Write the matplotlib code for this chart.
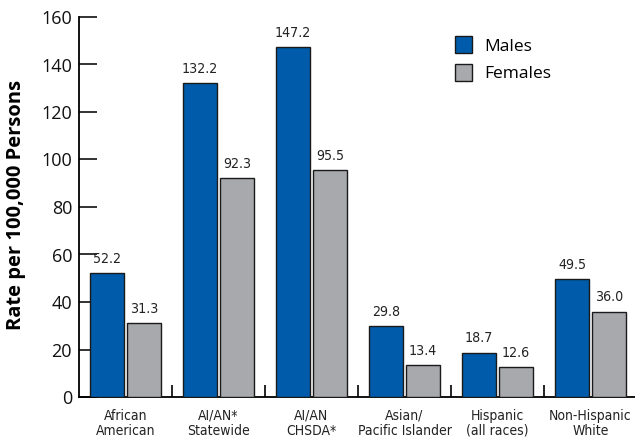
import matplotlib
matplotlib.use("Agg")
import matplotlib.pyplot as plt
import numpy as np
from matplotlib.patches import Patch
from matplotlib import font_manager as fm

categories = ["African\nAmerican", "AI/AN*\nStatewide", "AI/AN\nCHSDA*",
              "Asian/\nPacific Islander", "Hispanic\n(all races)", "Non-Hispanic\nWhite"]
males = [52.2, 132.2, 147.2, 29.8, 18.7, 49.5]
females = [31.3, 92.3, 95.5, 13.4, 12.6, 36.0]
yticks = [0, 20, 40, 60, 80, 100, 120, 140, 160]

blue = "#005BAA"
gray = "#A7A9AC"
regular = ["Open Sans", "DejaVu Sans"]

# pick a condensed face if one is installed
cond_path = None
for f in fm.fontManager.ttflist:
    if f.name == "DejaVu Sans" and f.stretch in ("condensed", 300, "semi-condensed") and f.weight in (400, "normal", "regular") and f.style == "normal":
        cond_path = f.fname
        break

def narrow_kw(size):
    if cond_path:
        return dict(fontproperties=fm.FontProperties(fname=cond_path, size=size))
    return dict(family=regular, fontsize=size * 0.85)

fig = plt.figure(figsize=(6.35, 4.44), dpi=100)
ax = fig.add_axes([79/635, 47/444, 558/635, 380/444])

x = np.arange(len(categories))
bw = 0.365
gap = 0.03
xm = x + 0.5 - gap/2 - bw/2
xf = x + 0.5 + gap/2 + bw/2
ax.bar(xm, males, width=bw, color=blue, edgecolor="#1a1a1a", linewidth=1.0, zorder=3)
ax.bar(xf, females, width=bw, color=gray, edgecolor="#1a1a1a", linewidth=1.0, zorder=3)

for xi, v in zip(xm, males):
    ax.text(xi, v + 3, f"{v:.1f}", ha="center", va="bottom", color="#222", **narrow_kw(10.2))
for xi, v in zip(xf, females):
    ax.text(xi, v + 3, f"{v:.1f}", ha="center", va="bottom", color="#222", **narrow_kw(10.2))

ax.set_xlim(0, 6)
ax.set_ylim(0, 160)
ax.set_yticks(yticks)
ax.set_yticklabels([str(t) for t in yticks], fontsize=13, family=regular)
ax.tick_params(axis="y", direction="in", length=13, width=1.2, pad=5, colors="#111")

ax.set_xticks(np.arange(1, 6))
ax.set_xticklabels([])
ax.tick_params(axis="x", direction="in", length=9, width=1.2)
for xi, lab in zip(x + 0.5, categories):
    ax.text(xi, -5.0, lab, ha="center", va="top", linespacing=1.1, color="#222",
            clip_on=False, **narrow_kw(10))

for s in ["top", "right"]:
    ax.spines[s].set_visible(False)
ax.spines["left"].set_linewidth(1.3)
ax.spines["bottom"].set_linewidth(1.3)

fig.text(16/635, 1 - 205/444, "Rate per 100,000 Persons", rotation=90, ha="center", va="center",
         fontsize=14.5, fontweight="bold", family=regular)

handles = [Patch(facecolor=blue, edgecolor="#1a1a1a", label="Males"),
           Patch(facecolor=gray, edgecolor="#1a1a1a", label="Females")]
leg = ax.legend(handles=handles, loc="upper left", bbox_to_anchor=(0.645, 0.99), frameon=False,
                prop={"family": regular, "size": 12.5}, handlelength=1.0, handleheight=1.1,
                handletextpad=0.7, labelspacing=0.55)

fig.savefig("out.png", dpi=100)
